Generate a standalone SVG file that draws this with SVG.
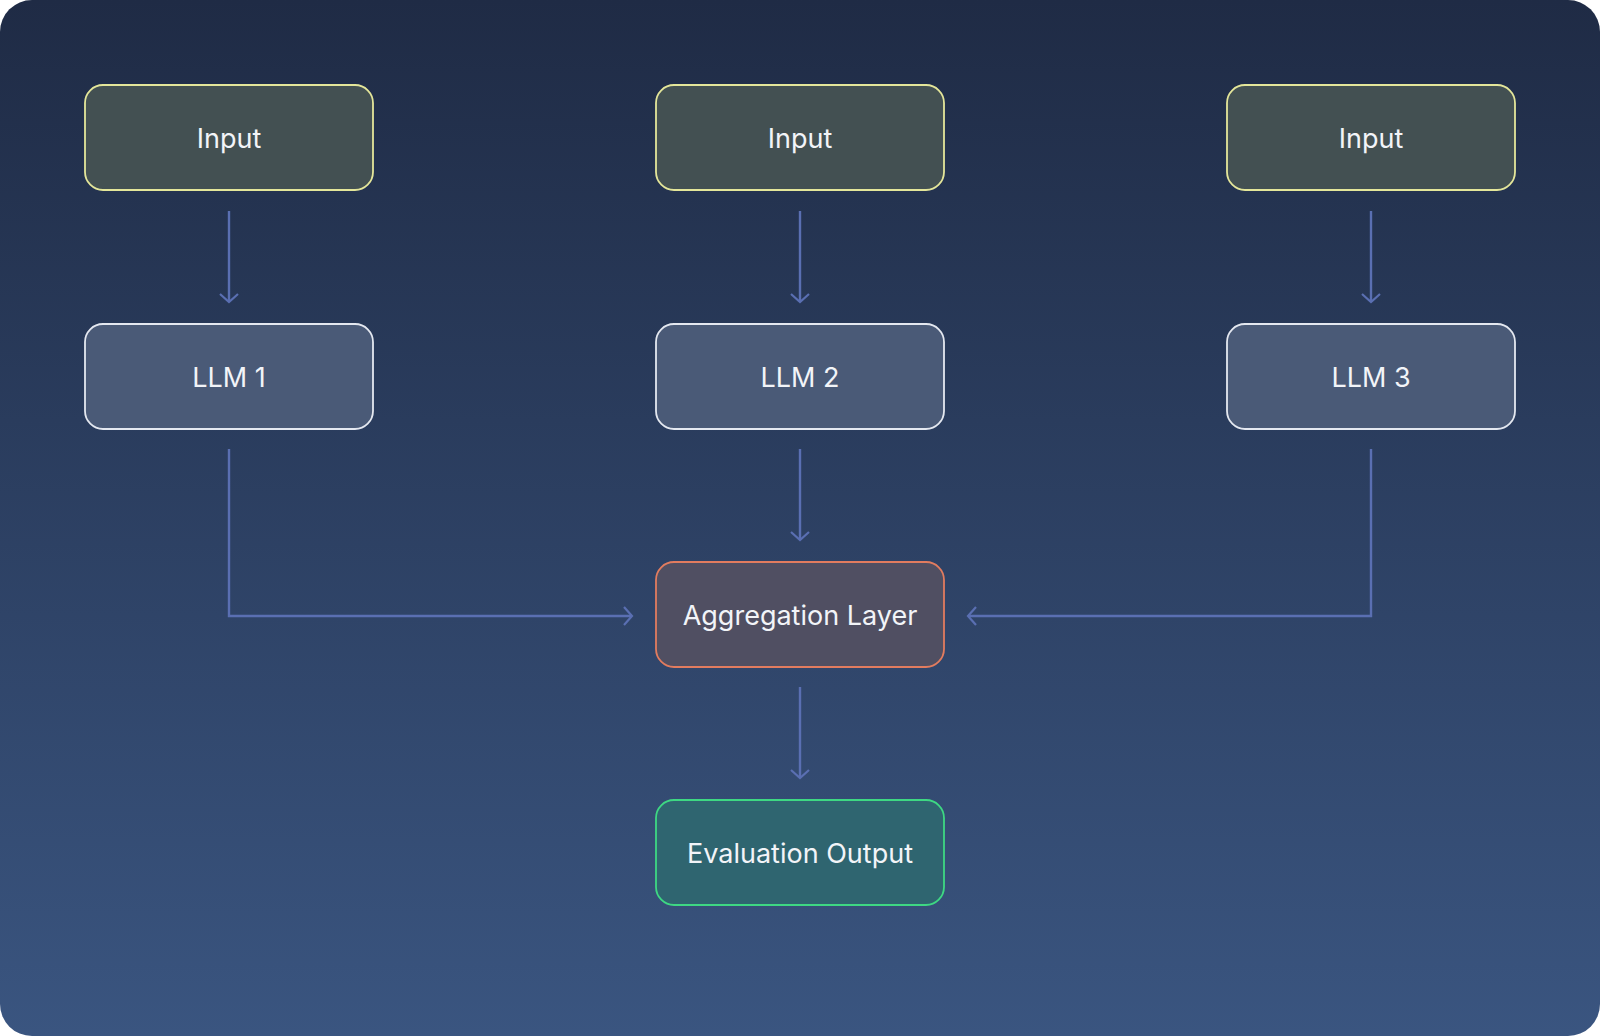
<svg xmlns="http://www.w3.org/2000/svg" width="1600" height="1036" viewBox="0 0 1600 1036">
<defs>
<linearGradient id="bg" x1="0" y1="0" x2="0" y2="1">
<stop offset="0" stop-color="#1f2b45"/>
<stop offset="1" stop-color="#3a5580"/>
</linearGradient>
<marker id="ah" viewBox="0 0 20 20" refX="10" refY="10" markerWidth="20" markerHeight="20" markerUnits="userSpaceOnUse" orient="auto">
<path d="M2,1 L10,10 L2,19" fill="none" stroke="#5a6fb2" stroke-width="2.2"/>
</marker>
<style>
.n rect{stroke-width:1.8}
.in rect{fill:#435052;stroke:#e4e69a}
.llm rect{fill:#4a5a77;stroke:#e4e8f0}
.agg rect{fill:#504f62;stroke:#e27c5f}
.ev rect{fill:#2f6570;stroke:#3ed883}
text{font-family:Inter,"Noto Sans",sans-serif;font-size:27px;fill:#f2f4f8;text-anchor:middle;dominant-baseline:central}
.c path{fill:none;stroke:#5a6fb2;stroke-width:2.4;marker-end:url(#ah)}
</style>
</defs>
<rect width="1600" height="1036" rx="32" fill="url(#bg)"/>
<g class="c">
<path d="M229,211 V302"/>
<path d="M800,211 V302"/>
<path d="M1371,211 V302"/>
<path d="M800,449 V540"/>
<path d="M229,449 V616 H632"/>
<path d="M1371,449 V616 H968"/>
<path d="M800,687 V778"/>
</g>
<g id="input1" class="n in"><rect x="85" y="85" width="288" height="105" rx="18"/><text x="229" y="138">Input</text></g>
<g id="input2" class="n in"><rect x="656" y="85" width="288" height="105" rx="18"/><text x="800" y="138">Input</text></g>
<g id="input3" class="n in"><rect x="1227" y="85" width="288" height="105" rx="18"/><text x="1371" y="138">Input</text></g>
<g id="llm1" class="n llm"><rect x="85" y="324" width="288" height="105" rx="18"/><text x="229" y="377">LLM 1</text></g>
<g id="llm2" class="n llm"><rect x="656" y="324" width="288" height="105" rx="18"/><text x="800" y="377">LLM 2</text></g>
<g id="llm3" class="n llm"><rect x="1227" y="324" width="288" height="105" rx="18"/><text x="1371" y="377">LLM 3</text></g>
<g id="agg" class="n agg"><rect x="656" y="562" width="288" height="105" rx="18"/><text x="800" y="615">Aggregation Layer</text></g>
<g id="eval" class="n ev"><rect x="656" y="800" width="288" height="105" rx="18"/><text x="800" y="853">Evaluation Output</text></g>
</svg>
